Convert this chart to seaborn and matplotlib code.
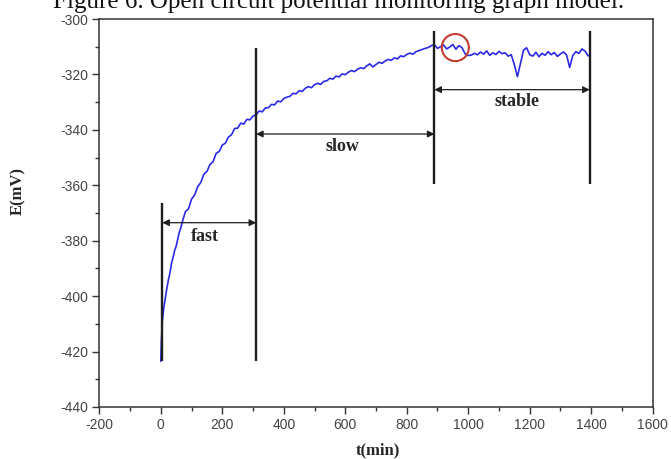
import matplotlib
matplotlib.use("Agg")
import matplotlib.pyplot as plt
import matplotlib.ticker as mticker
import pandas as pd
import seaborn as sns

# open circuit potential readings
t_min = [0, 2, 5, 10, 15, 20, 25, 30, 35, 40, 45, 50, 55, 60, 65, 70, 80, 90,
         100, 110, 120, 130, 140, 150, 160, 170, 180, 190, 200, 210, 220, 230,
         240, 250, 260, 270, 280, 290, 300, 310, 320, 330, 340, 350, 360, 370,
         380, 390, 400, 410, 420, 430, 440, 450, 460, 470, 480, 490, 500, 510,
         520, 530, 540, 550, 560, 570, 580, 590, 600, 610, 620, 630, 640, 650,
         660, 670, 680, 690, 700, 710, 720, 730, 740, 750, 760, 770, 780, 790,
         800, 810, 820, 830, 840, 850, 860, 870, 880, 890, 900, 910, 920, 930,
         940, 950, 960, 970, 980, 990, 1000, 1010, 1020, 1030, 1040, 1050,
         1060, 1070, 1080, 1090, 1100, 1110, 1120, 1130, 1140, 1150, 1160,
         1170, 1180, 1190, 1200, 1210, 1220, 1230, 1240, 1250, 1260, 1270,
         1280, 1290, 1300, 1310, 1320, 1330, 1340, 1350, 1360, 1370, 1380,
         1390, 1395]
e_mv = [-423.5, -416, -409, -404, -400.5, -397, -394, -391.5, -388, -386,
        -383.5, -382, -379.5, -377, -375.5, -373.2, -369.5, -368.5, -365,
        -363.5, -360.5, -359, -356, -355, -352.5, -351.5, -348.5, -347.8,
        -345.5, -344.8, -342.6, -341.8, -339.5, -339.4, -337.6, -337.9, -336.2,
        -336.4, -335, -334.6, -333.2, -333.5, -332.1, -332.0, -330.8, -331.0,
        -329.6, -329.9, -328.7, -328.2, -327.9, -326.8, -327.0, -325.9, -326.1,
        -325.0, -324.4, -324.8, -323.7, -323.2, -323.6, -322.5, -322.3, -321.4,
        -321.7, -320.6, -320.9, -319.8, -320.1, -319.2, -318.6, -319.0, -318.1,
        -317.6, -317.9, -316.9, -316.2, -317.3, -316.4, -315.6, -316.0, -315.1,
        -314.6, -314.9, -314.0, -314.4, -313.3, -313.6, -312.8, -312.3, -312.7,
        -311.8, -311.4, -311.0, -310.6, -310.3, -309.6, -309.3, -310.6, -310.0,
        -309.4, -310.8, -310.1, -309.2, -310.9, -309.6, -310.4, -312.6, -313.2,
        -313.0, -312.4, -312.9, -311.9, -312.7, -311.5, -313.1, -312.2, -312.8,
        -311.7, -312.5, -312.2, -313.4, -312.9, -316.5, -320.8, -316.0, -311.2,
        -310.4, -312.9, -313.4, -312.0, -313.6, -312.4, -313.1, -311.8, -312.9,
        -312.1, -313.5, -312.6, -311.9, -313.0, -317.5, -313.2, -311.8, -312.4,
        -310.8, -311.6, -313.3, -313.0]

# stage boundaries (min) and the extent of each vertical marker (mV)
boundary_t = [5, 310, 890, 1395]
boundary_lo = [-423.5, -423.5, -359.5, -359.5]
boundary_hi = [-366.5, -310.5, -304.5, -304.5]

stage_names = ["fast", "slow", "stable"]
stage_arrow_y = [-373.5, -341.5, -325.5]
stage_label_t = [145, 590, 1160]
stage_label_y = [-378.6, -346.0, -329.8]

circle_t = [958]
circle_e = [-310.3]

df = pd.DataFrame({"t": t_min, "E": e_mv})

sns.set_theme(style="white")
plt.rcParams["font.family"] = ["Liberation Sans", "DejaVu Sans"]
plt.rcParams["axes.unicode_minus"] = False

fig = plt.figure(figsize=(6.71, 4.59), dpi=100)
ax = fig.add_axes([0.148, 0.1133, 0.8247, 0.8453])

sns.lineplot(data=df, x="t", y="E", ax=ax, color="#2a2ae6", linewidth=1.2)

for t, lo, hi in zip(boundary_t, boundary_lo, boundary_hi):
    ax.vlines(t, lo, hi, color="#1e1e1e", linewidth=1.7)

for i, name in enumerate(stage_names):
    x0, x1 = boundary_t[i], boundary_t[i + 1]
    ax.annotate("", xy=(x1, stage_arrow_y[i]), xytext=(x0, stage_arrow_y[i]),
                arrowprops=dict(arrowstyle="<|-|>", color="#1e1e1e", lw=0.9,
                                mutation_scale=10, shrinkA=0, shrinkB=0))
    ax.text(stage_label_t[i], stage_label_y[i], name, ha="center", va="center",
            fontsize=13, fontweight="bold", family=["Liberation Serif"],
            color="#262626")

ax.scatter(circle_t, circle_e, s=380, facecolors="none", edgecolors="#c23b32",
           linewidths=1.5, zorder=5)

ax.set_xlim(-200, 1600)
ax.set_ylim(-440, -300)
ax.xaxis.set_major_locator(mticker.MultipleLocator(200))
ax.xaxis.set_minor_locator(mticker.MultipleLocator(100))
ax.yaxis.set_major_locator(mticker.MultipleLocator(20))
ax.yaxis.set_minor_locator(mticker.MultipleLocator(10))
ax.tick_params(axis="both", which="major", direction="out", length=5, width=1,
               color="#333333", labelcolor="#444444", labelsize=10,
               bottom=True, left=True, top=False, right=False, pad=3)
ax.tick_params(axis="both", which="minor", direction="out", length=3, width=1,
               color="#333333", bottom=True, left=True, top=False, right=False)

for sp in ax.spines.values():
    sp.set_color("#333333")
    sp.set_linewidth(1.1)

ax.set_xlabel("t(min)", fontsize=12, fontweight="bold", family=["Liberation Serif"])
ax.set_ylabel("E(mV)", fontsize=12, fontweight="bold", family=["Liberation Serif"])
ax.xaxis.set_label_coords(0.504, -0.111)
ax.yaxis.set_label_coords(-0.147, 0.557)
ax.yaxis.label.set_va("center")
ax.xaxis.label.set_va("center")

fig.text(0.504, 1 - 8 / 459, "Figure 6. Open circuit potential monitoring graph model.",
         ha="center", va="baseline", fontsize=18, family=["Liberation Serif"],
         color="#111111")

fig.savefig("out.png", dpi=100)
